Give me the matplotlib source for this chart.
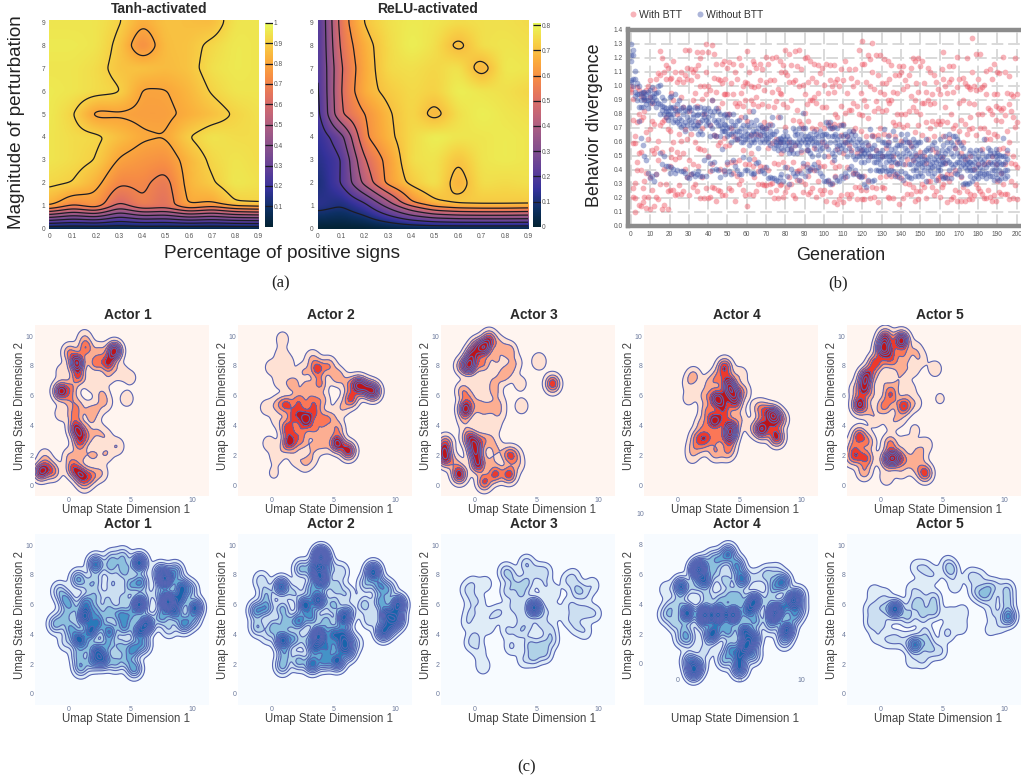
import matplotlib
matplotlib.use('Agg')
import matplotlib.pyplot as plt
from matplotlib.colors import LinearSegmentedColormap, Normalize
from matplotlib.cm import ScalarMappable
from matplotlib.lines import Line2D
import numpy as np

W, H = 1021, 779
plt.rcParams['font.family'] = ['Liberation Sans', 'DejaVu Sans']

# ---- (a) heatmaps, rows are magnitude, columns are percentage
pct = [0, .1, .2, .3, .4, .5, .6, .7, .8, .9]
mag = [0, 1, 1.15, 2, 3, 4, 5, 6, 7, 8, 9]
tanh_z = [
    [.02, .02, .02, .03, .03, .03, .02, .02, .02, .02],
    [.80, .68, .76, .55, .68, .65, .78, .72, .80, .82],
    [.84, .74, .77, .60, .70, .63, .82, .80, .90, .91],
    [.92, .90, .83, .71, .72, .66, .84, .89, .96, .94],
    [.95, .93, .90, .79, .76, .74, .84, .92, .95, .93],
    [.95, .93, .92, .86, .81, .80, .90, .95, .93, .93],
    [.96, .91, .775, .79, .78, .78, .82, .86, .91, .94],
    [.96, .95, .93, .91, .79, .795, .84, .91, .95, .95],
    [.95, .95, .93, .87, .87, .85, .87, .94, .96, .95],
    [.96, .96, .95, .88, .72, .86, .87, .92, .96, .95],
    [.95, .95, .95, .91, .81, .87, .86, .85, .95, .95],
]
relu_z = [
    [.00, .00, .00, .01, .02, .02, .02, .02, .02, .02],
    [.13, .10, .17, .33, .50, .62, .66, .67, .67, .66],
    [.13, .11, .20, .38, .60, .69, .72, .72, .72, .72],
    [.095, .20, .43, .63, .72, .77, .66, .76, .75, .76],
    [.12, .19, .50, .63, .76, .77, .70, .77, .78, .77],
    [.14, .26, .59, .68, .75, .79, .77, .77, .78, .77],
    [.16, .50, .60, .69, .75, .67, .76, .79, .77, .76],
    [.17, .51, .67, .72, .75, .73, .79, .77, .76, .74],
    [.18, .50, .66, .75, .76, .74, .77, .66, .78, .77],
    [.18, .53, .67, .75, .79, .76, .675, .76, .77, .76],
    [.18, .55, .71, .76, .78, .77, .75, .76, .76, .75],
]

# ---- (b) behavior divergence per generation, hundredths
with_btt = [
    [100, 98, 96], [91, 76, 59, 27, 21], [10, 64, 59, 31, 20], [99, 46, 40, 74], [97, 80, 52, 15],
    [93, 53, 40, 14, 76], [27, 78, 17, 95], [82, 32, 21, 91], [67, 38, 13, 97], [100, 62, 21],
    [104, 69, 35, 12, 92], [88, 54, 26, 75], [98, 73, 14, 52], [105, 56, 37, 21], [109, 61, 19, 47],
    [125, 72, 30, 108], [120, 74, 12, 53], [110, 76, 41, 15], [115, 78, 30, 105], [113, 69, 12, 25],
    [105, 68, 43, 26], [95, 55, 49, 106], [118, 90, 26, 60], [110, 84, 22, 48], [103, 53, 23, 80],
    [105, 49, 29, 66], [110, 61, 23, 92], [103, 85, 52, 25], [126, 69, 41, 108], [113, 62, 35, 105],
    [126, 82, 47, 22], [112, 66, 37, 104], [110, 90, 44, 28], [112, 95, 30, 60], [124, 86, 25, 107],
    [115, 74, 43, 56], [120, 100, 55, 20], [124, 70, 35, 91], [100, 80, 54, 20], [130, 110, 94, 27],
    [124, 100, 50, 20], [97, 72, 39, 21], [129, 90, 44, 28], [123, 106, 65, 27], [116, 96, 64, 18],
    [105, 84, 58, 26], [104, 60, 41, 25], [116, 102, 88, 22], [118, 94, 63, 39], [105, 94, 57, 22],
    [113, 94, 80, 44], [117, 80, 58, 27], [102, 70, 46, 26], [116, 94, 64, 38], [110, 88, 46, 18],
    [105, 86, 62, 36], [120, 88, 30, 47], [115, 95, 78, 33], [100, 86, 26, 54], [103, 90, 44, 22],
    [125, 102, 75, 14], [110, 82, 44, 23], [100, 90, 65, 52], [118, 87, 43, 22], [116, 99, 48, 35],
    [113, 92, 66, 25], [100, 86, 39, 30], [116, 104, 65, 43], [112, 87, 71, 30], [97, 74, 42, 29],
    [121, 103, 70, 29], [116, 86, 56, 40], [104, 73, 30, 24], [120, 96, 59, 31], [104, 85, 45, 20],
    [121, 89, 62, 26], [98, 78, 44, 20], [118, 95, 60, 29], [110, 94, 52, 30], [115, 87, 46, 21],
    [126, 110, 71, 24], [108, 85, 42, 28], [123, 103, 60, 35], [115, 90, 55, 30], [103, 76, 46, 22],
    [125, 104, 58, 20], [114, 83, 39, 33], [126, 100, 75, 40], [112, 73, 53, 32], [101, 70, 43, 24],
    [120, 94, 81, 30], [121, 87, 54, 44], [103, 75, 36, 23], [118, 90, 41, 24], [106, 90, 70, 27],
    [116, 92, 56, 40], [103, 88, 69, 21], [115, 95, 46, 32], [109, 73, 43, 26], [113, 85, 60, 23],
    [101, 70, 43, 26], [116, 85, 57, 18], [95, 74, 50, 32], [115, 104, 72, 24], [100, 70, 46, 30],
    [115, 96, 73, 17], [103, 80, 42, 36], [105, 78, 55, 16], [72, 100, 43, 19], [112, 86, 65, 22],
    [104, 73, 52, 17], [118, 81, 60, 35], [95, 64, 42, 23], [112, 83, 58, 20], [106, 83, 54, 23],
    [100, 88, 68, 38], [112, 70, 38, 28], [103, 86, 52, 19], [126, 80, 36, 28], [95, 68, 54, 26],
    [132, 116, 79, 19], [116, 90, 36, 19], [103, 86, 64, 26], [122, 77, 58, 32], [119, 100, 50, 20],
    [131, 110, 65, 28], [98, 82, 64, 21], [122, 89, 54, 27], [108, 84, 65, 17], [122, 96, 70, 35],
    [102, 82, 50, 28], [119, 94, 66, 27], [102, 83, 56, 36], [118, 90, 60, 21], [105, 88, 65, 20],
    [115, 90, 43, 36], [96, 74, 50, 20], [108, 72, 64, 37], [95, 80, 45, 36], [114, 108, 73, 16],
    [110, 80, 61, 34], [114, 98, 71, 20], [104, 80, 44, 31], [100, 72, 48, 23], [108, 82, 60, 30],
    [113, 93, 57, 23], [120, 85, 47, 28], [118, 90, 67, 18], [102, 82, 51, 25], [120, 96, 72, 19],
    [114, 80, 53, 25], [118, 88, 65, 30], [102, 88, 50, 28], [96, 74, 45, 20], [113, 90, 62, 32],
    [110, 87, 70, 32], [94, 75, 55, 28], [108, 88, 64, 22], [103, 73, 53, 25], [98, 75, 34, 33],
    [94, 73, 36, 21], [112, 75, 49, 28], [124, 105, 64, 30], [100, 85, 45, 35], [95, 74, 37, 17],
    [114, 103, 63, 32], [105, 80, 37, 19], [114, 96, 70, 21], [72, 56, 40, 26], [121, 99, 60, 18],
    [105, 88, 68, 24], [76, 52, 35, 18], [106, 90, 60, 28], [102, 73, 48, 18], [120, 100, 66, 25],
    [99, 88, 69, 19], [98, 78, 50, 23], [134, 110, 70, 19], [100, 87, 41, 22], [123, 97, 65, 30],
    [105, 80, 44, 27], [123, 98, 70, 25], [99, 80, 55, 23], [70, 101, 44, 20], [111, 94, 62, 20],
    [84, 67, 46, 26], [112, 83, 62, 21], [105, 80, 50, 18], [116, 94, 66, 22], [86, 76, 44, 18],
    [110, 94, 64, 32], [109, 84, 55, 24], [83, 75, 38, 23], [121, 84, 56, 30], [110, 79, 44, 23],
    [95, 68, 52, 23], [107, 87, 60, 19], [94, 82, 45, 32], [93, 78, 50, 20], [120, 71, 44, 29],
    [94, 74, 42, 19],
]
without_btt = [
    [104, 103, 130, 122, 118], [126, 122, 100, 105], [105, 111, 96, 93], [102, 94, 90], [100, 94, 85, 75],
    [95, 90, 85, 63], [96, 92, 85, 58], [92, 96, 90, 50], [94, 90, 87, 47], [96, 90, 84, 38],
    [97, 92, 88, 34], [99, 93, 89, 36], [92, 88, 95, 32], [95, 90, 85, 37], [100, 96, 88],
    [101, 87, 80, 52], [92, 86, 83, 44], [90, 85, 80, 50], [84, 82, 78, 43], [82, 76, 80, 43],
    [92, 85, 80, 38], [93, 84, 78, 42], [80, 85, 74, 41], [94, 83, 76, 38], [82, 74, 87, 40],
    [90, 83, 77, 73], [84, 76, 71, 39], [80, 85, 72, 39], [83, 74, 68, 38], [82, 72, 78, 35],
    [84, 76, 85, 34], [83, 74, 70, 37], [80, 72, 78, 38], [75, 70, 85, 36], [84, 79, 72, 37],
    [66, 72, 80, 39], [85, 74, 68, 36], [80, 76, 66, 36], [82, 78, 84, 47], [81, 76, 72, 36],
    [84, 78, 74, 49], [82, 72, 64, 45], [79, 70, 90, 40], [76, 82, 65, 46], [74, 84, 64, 41],
    [72, 82, 76, 40], [80, 72, 64, 35], [70, 76, 68, 55], [79, 73, 68, 40], [72, 80, 68, 37],
    [78, 70, 64, 46], [80, 71, 66, 39], [75, 66, 60, 37], [80, 72, 68, 47], [66, 72, 62, 43],
    [75, 68, 62, 40], [68, 63, 76, 37], [65, 60, 70, 37], [72, 64, 60, 49], [68, 62, 78, 40],
    [72, 66, 62, 40], [71, 64, 58, 48], [66, 74, 60, 38], [82, 68, 62, 37], [72, 66, 60, 38],
    [68, 62, 76, 45], [70, 64, 56, 46], [72, 66, 60, 39], [71, 68, 62, 40], [69, 65, 60, 38],
    [70, 66, 62, 42], [72, 63, 60, 34], [68, 64, 58, 35], [78, 72, 66, 34], [66, 61, 56, 34],
    [68, 60, 58, 33], [62, 58, 54, 32], [78, 63, 60, 35], [62, 60, 56, 37], [64, 60, 54, 32],
    [68, 62, 58, 42], [64, 60, 55, 36], [62, 58, 52, 30], [60, 56, 54, 41], [70, 60, 52, 38],
    [68, 65, 58, 36], [66, 60, 52, 38], [70, 62, 58, 33], [66, 60, 54, 38], [81, 70, 62, 45],
    [70, 64, 60, 36], [62, 58, 54, 42], [64, 60, 54, 39], [66, 62, 52, 40], [63, 60, 50, 42],
    [68, 63, 58, 44], [66, 60, 55, 40], [64, 60, 51, 42], [68, 58, 54, 38], [62, 65, 56, 36],
    [66, 60, 50, 32], [74, 66, 58, 32], [72, 64, 55, 33], [74, 70, 60, 30], [70, 64, 52, 31],
    [71, 64, 50, 47], [66, 60, 54, 35], [62, 70, 57, 33], [64, 58, 53, 32], [72, 60, 56, 36],
    [72, 64, 58, 34], [66, 60, 54, 38], [64, 60, 50, 36], [68, 62, 56, 41], [66, 60, 53, 43],
    [68, 62, 50, 37], [65, 58, 48, 40], [60, 55, 50, 37], [62, 56, 50, 36], [60, 52, 46, 35],
    [58, 54, 50, 36], [55, 52, 46, 30], [60, 54, 50, 28], [58, 52, 47, 33], [69, 55, 50, 40],
    [64, 56, 50, 32], [58, 50, 46, 33], [54, 50, 46, 40], [62, 52, 48, 40], [52, 48, 44, 39],
    [60, 54, 50, 40], [69, 60, 50, 42], [58, 50, 46, 39], [64, 58, 52, 40], [60, 50, 47, 37],
    [55, 50, 46, 40], [68, 52, 48, 39], [62, 56, 46, 36], [58, 52, 44, 38], [58, 50, 45, 35],
    [66, 58, 48, 39], [60, 52, 44, 33], [62, 56, 50, 38], [66, 60, 54, 36], [60, 52, 44, 35],
    [58, 50, 44, 34], [62, 56, 48, 40], [60, 52, 46, 36], [58, 50, 42, 40], [60, 48, 44, 36],
    [60, 50, 45, 38], [50, 46, 42, 36], [53, 48, 44, 40], [62, 54, 47, 32], [56, 48, 42, 38],
    [54, 50, 44, 40], [58, 46, 42, 36], [60, 48, 43, 38], [56, 50, 46, 33], [52, 47, 42, 40],
    [62, 50, 44, 40], [54, 48, 44, 36], [58, 50, 46, 34], [64, 52, 45, 35], [60, 54, 47, 34],
    [66, 56, 46, 40], [60, 52, 44, 34], [64, 58, 50, 42], [64, 56, 44, 38], [62, 52, 46, 37],
    [60, 50, 46, 40], [58, 48, 43, 36], [56, 50, 44, 30], [50, 46, 42, 31], [48, 44, 40, 30],
    [52, 46, 42, 31], [54, 46, 40, 36], [50, 44, 40, 32], [52, 46, 40, 34], [54, 48, 42, 36],
    [50, 44, 38, 34], [54, 48, 42, 38], [52, 46, 40, 36], [62, 48, 44, 37], [50, 42, 38, 34],
    [56, 50, 44, 38], [54, 52, 46, 36], [50, 44, 40, 36], [52, 46, 40, 33], [55, 50, 42, 37],
    [52, 48, 44, 34], [51, 46, 40, 33], [50, 44, 38, 34], [63, 50, 44, 38], [50, 46, 40, 34],
    [54, 48, 40, 36],
]

# ---- (c) state density, estimated sample clusters (x, y, weight)
red_1 = [(-2.2, .9, 3.5), (-1.2, .9, 1.6), (-1.7, 1.2, 1.4), (-1.9, 1.9, .8), (.4, 1.1, 2.4), (1, .7, 3), (1.8, .6, 1.8), (1.3, .1, 1.2),
         (2.6, .8, 1), (.1, 1.9, 1), (1, 2, 1), (2, 2, 1.1), (3, 2.1, 1), (3.9, 2.6, 1), (.9, 2.9, 2.2), (1.1, 3.5, 1.8), (.6, 3.8, 3),
         (.5, 4.7, 1.6), (.8, 5.3, 1), (1.7, 3.2, .8), (2.4, 3.6, .8), (1.9, 4.4, .8), (3, 3.2, .8), (-.6, 4.8, .7), (.2, 5.7, 1.2),
         (-.6, 6.3, 4), (.2, 6.5, 1.4), (.8, 7.3, 2.3), (.7, 8.2, 5), (.1, 8.9, 1.7), (1.4, 9.2, 2.2), (1.3, 9.9, .8), (-.5, 7.6, .7),
         (2.2, 8.2, 2), (3.2, 8.2, 3), (3.7, 9, 5), (2.5, 9, 1), (4.2, 7.6, .8), (5, 7.2, .6), (3.2, 7.3, .8), (1.9, 6.8, .8), (2.7, 6.1, 1),
         (1.7, 5, .8), (3, 5.5, .8), (2.3, 5.1, .8), (4.7, 5.8, .8)]
red_2 = [(.9, 9.8, .7), (.8, 8.7, .7), (1.3, 8.2, .7), (0, 7.9, .7), (.7, 7, .8), (1.7, 6.8, 1.5), (2.6, 7.6, 1), (3.7, 7.8, 2.6), (3.3, 8.5, 1),
         (4.6, 8, 1.6), (5.3, 7.3, 1.6), (3.9, 6.8, 1.8), (2.9, 6.5, 1.4), (6.2, 6.8, 1.2), (7, 6.7, 4), (7.6, 6.5, 2.5), (8.2, 6.3, 4), (6.4, 5.8, 2.6),
         (5.7, 5.2, 1), (.5, 5.4, 1), (1.2, 5.4, 2.4), (2.2, 5.7, 1.8), (3.3, 5.6, 1.7), (4.1, 5.7, 1.2), (-.4, 5.2, .7), (2.3, 5, 1.5),
         (1.8, 4.6, 2), (2.8, 4.4, 3.8), (3.5, 4.9, 1.8), (4.2, 4.4, 1.4), (4.8, 4.5, 1), (1.3, 3.8, 2.6), (.5, 4.4, .7), (2.3, 3.6, 1.6), (3.4, 3.7, 1.4),
         (4.2, 3.6, 1), (5.3, 3.8, 1.5), (1.5, 2.9, 3.2), (2.4, 2.9, 1.3), (1, 2.5, .7), (3.4, 2.6, .9), (4.2, 2.7, 1), (5.3, 2.8, 4), (6.2, 2.3, 3.5),
         (-.2, 2.8, .7), (.4, 1.9, .7), (2.7, 1.4, .8), (2, 1.8, .8), (3.2, 1.8, .8), (.2, .8, .5)]
red_3 = [(1.2, 9.8, 2.5), (.8, 9.2, 4), (.2, 9.3, 2), (-.2, 8.7, 3), (-.4, 8, 4.5), (.7, 8.1, 1.6), (-1, 8, 1.4), (2.8, 9, 1.5), (2, 9.4, 1),
         (2.8, 7.7, 1), (3.3, 8.2, .8), (1.8, 8.4, 1), (2.3, 7.3, 1.1), (1.5, 7, .8), (-.9, 6.3, 1.5), (1.6, 6.3, 1.1), (.4, 6.6, .8), (3.7, 6.8, .7),
         (3.8, 5.3, .8), (.4, 5.3, 1.2), (1.2, 5.2, 1), (-.7, 5.1, 4), (2, 5.5, .8), (-.4, 5.8, 1), (.7, 4.3, .8), (1.6, 4, .8), (2, 4.8, .8), (-.8, 4.3, .8),
         (5.2, 8.3, 1), (6.3, 6.8, 3), (-.5, 3.3, 1.2), (-.3, 3.1, 1.4), (-.0, 2.8, 2.4), (.1, 2.2, 3.5), (.3, 1.4, 3.5), (.7, 3, 1.3), (1.4, 3, .8), (1.8, 2.4, .8),
         (-2.3, 2.8, 2), (-2.3, 1.8, 3), (-2.5, 2.3, 2), (-1.2, .7, 3.5), (-1.5, 1.4, .9), (.8, .2, 2.5), (1.6, .7, 1.4), (2.8, .7, 2.8), (2.8, 2, 2.2), (3.3, 2, .9),
         (1.8, .8, 1.3), (3.5, 1.4, .8), (1.4, 1.7, .8)]
red_4 = [(1.3, 7.3, 1.3), (.9, 6.8, .6), (.9, 5.8, .6), (3.8, 7.9, 3), (3.2, 7.2, 1.4), (4.1, 7, 2), (4.2, 6.5, 4), (4.6, 6, 3.5), (3.2, 5.8, 4.5),
         (2.6, 6.8, 1.1), (2.2, 6, 1.2), (2.4, 5, 1.5), (3.7, 5.3, 2.2), (4.7, 5.4, 1.8), (2, 4.1, 1.2), (3, 4.3, 4), (3.8, 4.6, 1.7), (4.3, 3.8, 4),
         (4.2, 3.3, 3.5), (5.1, 7.4, .8), (5.3, 6.3, 1.2), (5, 4.4, 1), (1.6, 3.2, 1.6), (2.3, 3.2, 2.3), (3.2, 3.2, 1.4), (1.3, 2.5, 1), (2, 2.6, 1),
         (3, 2.4, .8), (4.2, 2.5, 1.2), (3.1, 2.1, .9), (1.2, 1.9, .6), (4, 2.1, .9), (7, 5, 1.6), (7.7, 4.7, 4.5), (8.3, 4.4, 1.8), (6.8, 4.2, 1), (6.8, 3.7, 3.8),
         (7.7, 3.9, 1.4), (8, 3.2, 3.2), (6.1, 3.8, .8), (6.5, 5.2, 1)]
red_5 = [(.4, 9.9, 3), (.2, 9.2, 4.5), (1.7, 9.7, 5), (.8, 9, 1.8), (2.8, 9.1, .8), (3.2, 8.5, .8), (1.9, 8.7, 1.4), (1, 8.3, 1.4), (.4, 8.4, 1),
         (2.6, 7.8, .8), (-.4, 8.2, 2.5), (-.8, 7.6, 1.3), (4.4, 7.8, .8), (1.7, 7.7, 1), (-1.2, 7.2, 3.5), (-1.3, 6.5, 3), (-2, 6.4, .7), (-1.6, 5.6, 1.5), (-1.7, 5.3, 2.6),
         (-.7, 6.1, .8), (.8, 6.2, 2), (.2, 7, .8), (1.4, 6.9, .8), (2.3, 6.4, .8), (.3, 5.3, 1.9), (1.9, 5.3, 3), (-.9, 5, .8), (1, 5.7, .8), (2.8, 5.5, .8), (1.5, 4.5, .8),
         (-.4, 4.4, .8), (.9, 4.2, .7), (2.8, 3.7, .5), (-1.7, 3.3, 2.6), (-1, 2.9, 1.5), (-2.2, 2.6, 1.2), (-1.9, 2, 2.2), (-1.1, 1.8, 2.2), (-2.4, 1.8, 1), (-1.3, .9, 1.5),
         (.8, 2.8, 1.8), (1, 1.8, 4.5), (.5, 1.7, 2), (1.6, 1.8, 1.7), (2.3, 1.6, .9), (3, 2.3, .8), (3.7, 2.7, .7), (3.2, 1.8, .8), (3.6, .8, 2.8), (2.9, 1.1, .8),
         (.5, .5, .8), (1.7, .9, .7), (4.8, 5.8, .5), (2, 2.8, .7)]
blue_1 = [(1, 1.8, 2.6), (2, 2.2, 3), (2.8, 2.3, 4.5), (2.3, 2.9, 4.2), (3.8, 2.1, 2.2), (5.3, 1.7, 3.2), (4.7, 2.3, 2), (5.2, 3, 3.6), (.8, 2.6, 2), (1.3, 3.3, 2), (3.2, 3.3, 2.4), (4.2, 3.2, 2.2),
          (6, 3.3, 2.8), (.8, 3.7, 4.5), (-.2, 3.5, 1.2), (1.8, 4.2, 4.5), (2.4, 4.8, 3.5), (3.3, 4.2, 4), (4.5, 4.5, 3.2), (5.7, 4.2, 4.5), (6.3, 4.7, 6), (-1, 4.7, 2.5), (.2, 4.4, 2.7), (-.3, 5.2, 2),
          (1.3, 5.2, 6), (1.4, 6.1, 3.5), (.3, 5.8, 1.8), (-.2, 6.3, 2.8), (-.7, 6.9, 1.8), (2.2, 5.6, 2.2), (3.3, 5.5, 2.4), (4.2, 5.3, 3), (5, 5.3, 2.5), (5.7, 6, 7), (4.4, 6.4, 1.8), (3.2, 6.4, 1.4), (2.2, 6.6, 1.8),
          (.8, 7.7, 3), (1.6, 7.3, 1.4), (2.2, 7.6, 1.6), (2.2, 8.7, 4.5), (3.4, 8.5, 2), (3.6, 7.4, 1.6), (4.5, 8.3, 2.6), (4.4, 9.2, 2), (3.5, 9.1, 1.6), (5.7, 8.8, 6), (5, 7.3, 2.5), (5.8, 7.5, 3.4), (6.2, 6.6, 1),
          (7.8, 7.7, 8), (7.4, 8.2, 3), (8.6, 8.2, 3), (9.1, 7.2, 4), (9.8, 7, 2.2), (8, 6.2, 10), (9, 6.4, 4), (8.6, 5.5, 4), (10.2, 5.8, 5), (7.5, 5.2, 3), (9.3, 4.7, 3.5), (8.1, 4.4, 1.5), (10, 5, 2), (7.3, 6.8, 1.6)]
blue_2 = [(.9, 1.9, 2.5), (1.1, 2.7, 2.2), (2.2, 2.2, 2.5), (3.3, 2, 4.5), (4.3, 2.2, 3.4), (5.3, 2.2, 5), (6.2, 2.8, 3), (3.5, 3.1, 4), (4.5, 3.1, 3.4), (5.6, 3.2, 3.2), (6.1, 3.5, 3.5),
          (.9, 3.6, 5.5), (-.3, 3.9, 1), (1.8, 3.7, 2.6), (2.8, 3.6, 1.5), (3.8, 3.9, 8), (5, 4, 4), (5.8, 4.1, 3.2), (-1.1, 4.5, 2.2), (.2, 4.5, 2.5), (1.2, 4.8, 2.4), (2.2, 4.9, 4), (3.2, 5.2, 3.3), (4.4, 4.9, 2.5), (5.8, 5.1, 5), (-1.2, 5.6, 3.2),
          (-.4, 5.8, 3), (.9, 5.7, 2.4), (2.7, 6, 5), (3.8, 6.3, 6), (5, 6, 2.4), (6.2, 5.5, 2), (-.4, 6.7, 2), (.8, 7.2, 5), (-.8, 7.6, 1.5), (1.8, 6.8, 1.6), (3.2, 7.1, 2.4), (4.1, 7.5, 3.5), (5.2, 7.2, 2), (6, 6.7, 1.5),
          (2.4, 8.4, 2.4), (3.4, 8.4, 3.2), (3.9, 8, 6), (4, 9.2, 10), (4.6, 8.5, 2), (5.6, 8.2, 1.5), (8.2, 8.2, 6), (7.6, 7.4, 2), (8.7, 7.3, 3), (9.4, 7, 2.4), (8.8, 6.2, 3), (7.5, 6, 2), (10.2, 6, 6.5),
          (9.3, 5.3, 5.5), (10.1, 5, 5), (7.9, 5, 1.5), (9, 4.2, 5), (9.6, 4.5, 2.5), (6.8, 3.4, 1)]
blue_3 = [(-.6, 7, .8), (-.2, 6.4, .7), (-.3, 5.5, .8), (-.5, 4.8, .8), (.6, 5.2, .7), (.4, 6.2, .6), (.9, 7.4, .7), (-.1, 7.4, .7), (.1, 3.8, 1), (-.3, 3.4, .7), (.4, 2.9, .7), (.7, 1.9, .9), (1.1, 4.5, .7), (2.1, 5.5, .8), (1.5, 5.3, .7),
          (2.5, 8.2, 1.2), (2.7, 6.9, 1.2), (2.9, 8, .9), (3.3, 7.4, 1), (3.8, 6.7, 1.4), (4.2, 7.5, 1.6), (4.2, 8.7, 1.5), (5, 8.2, 1), (5.7, 8.2, 1), (5.7, 7.3, .8), (4.8, 5.8, 6), (3.2, 5.9, 1.1), (3.7, 5.2, .9), (2.7, 4.3, 1),
          (3.7, 4.2, 1.2), (4.3, 4.6, 1), (5.4, 4.7, .9), (6.1, 4.3, 1), (6.2, 3.6, 1.2), (3, 3.2, 1), (4.5, 3.3, 1.5), (5.4, 3.3, 1.3), (4.8, 2.5, 1.6), (4, 2.3, .8), (5.7, 2.7, 1.3), (5.6, 5.5, .8), (6.5, 5.5, .7), (6.4, 6.8, .7),
          (7.5, 7.6, .8), (8, 7.9, .7), (8.3, 7, 1.5), (9.5, 7.3, .8), (8.9, 6.7, .8), (7.7, 6, .8), (8.3, 5.5, 1), (9, 5.5, 1), (9.7, 5.4, .8), (8.9, 4.2, .8), (8.2, 4.5, .8), (7.6, 5, .7)]
blue_4 = [(-.9, 5, .8), (-.5, 3.8, 1.5), (-.9, 3.3, 1.6), (.3, 5.2, 5), (.2, 4.2, 1.5), (-.2, 2.8, 1.8), (.8, 3.4, 6), (.6, 2.3, 1.7), (.9, 1.7, 2), (.3, 1.7, 1.2), (1.6, 6.3, 7), (2.2, 5.6, 4.5), (2, 6.6, 3), (1.4, 5.2, 1.5), (3, 6.2, 1.8), (2.4, 4.5, 1.8),
          (2.2, 3.3, 9), (3.3, 3.3, 9), (2.7, 1.9, 4), (2, 2.6, 1.2), (3.1, 2.3, 2.7), (4.5, 3.3, 8), (5.7, 3.6, 4), (6.2, 4.2, 6), (6.3, 2.9, 2.6), (4.1, 2.2, 3), (5.4, 2.2, 5), (4.3, 1, 3), (5.5, 1.2, 6.5), (6.1, 1.7, 4.5), (5, .5, 4), (6.1, .6, 2.4),
          (3.8, .3, 2.4), (5, -.3, 4.5), (1, .2, 3), (1.3, -.5, 5), (1.7, -.1, 2.4), (2.2, .9, 1.2), (4.1, 7.4, 4), (3.4, 7, 2), (4.8, 6.6, 3.5), (5.2, 5.7, 4.5), (3.9, 5.6, 1.9), (4.3, 4.6, 2), (5, 4.5, 2), (3.5, 4.3, 2), (2.8, 7.1, 1.6), (6.3, 5.8, 1),
          (7.2, 6, 1.8), (7.8, 5.2, 2.5), (7.8, 3.4, 9), (8.5, 5.5, 4), (9.3, 4.3, 6.5), (9.4, 3.2, 2.6), (8.5, 3.8, 3), (8.8, 2.3, 6), (9.8, 3.7, 2), (7.5, 2.6, 2), (8.6, 1.6, 2), (7.4, 4.4, 1.5), (9.8, 4.6, 1.8), (8, 6.2, 1)]
blue_5 = [(-.5, 6.8, .8), (-.8, 5.7, .9), (-.7, 4.8, 1.2), (.2, 4.7, .9), (-.1, 5.8, .8), (.4, 6.6, .7), (1.2, 5.7, 5), (.4, 5.7, .9), (2.2, 5.2, 1.6), (-.3, 3.9, .7), (.5, 3.6, .7), (1.2, 3.7, 1), (2, 3.5, .8), (2.8, 3.3, 4), (3.6, 4.1, 1.1),
          (3.8, 3.4, 1.3), (4.8, 2.9, 1), (4.1, 2.9, .9), (3.4, 2.3, 1), (2.5, 2.2, .6), (3.4, 5.3, 1.5), (4.3, 5.6, 1.7), (3.2, 6.2, 1.4), (4.3, 6.4, 1.4), (2.6, 6, 1), (2.6, 7, .8), (3.5, 7.3, .8), (3.6, 8.4, .9), (2.9, 8.5, .7),
          (4.3, 8, .8), (5.7, 8.3, 1.6), (5.4, 8.7, .9), (6, 7.3, .8), (5.4, 4.1, 1.1), (6.5, 4.5, .7), (5.6, 5.3, .8), (6.6, 5.5, .7), (7.3, 7.9, 1), (8, 7.8, .8), (7.7, 6.9, 1.2), (8.3, 6.6, 1.6), (8.7, 7.1, 1.5), (9, 6.2, .8),
          (10.2, 7, 1.5), (10.2, 6.2, 1.6), (10.3, 5.2, 3.5), (9.3, 7.2, .8), (9.1, 5.4, .8), (9.6, 4.6, .7), (8.8, 4.3, .5)]

actor_names = ['Actor 1', 'Actor 2', 'Actor 3', 'Actor 4', 'Actor 5']
red_panels = [red_1, red_2, red_3, red_4, red_5]
blue_panels = [blue_1, blue_2, blue_3, blue_4, blue_5]
blue_steps = [.65, .65, .6, .65, .6]

thermal = LinearSegmentedColormap.from_list('thermal', [
    (3/255, 35/255, 51/255), (13/255, 48/255, 100/255), (53/255, 50/255, 155/255), (93/255, 62/255, 153/255),
    (126/255, 77/255, 143/255), (158/255, 89/255, 135/255), (193/255, 100/255, 121/255), (225/255, 113/255, 97/255),
    (246/255, 139/255, 69/255), (251/255, 173/255, 60/255), (246/255, 211/255, 70/255), (231/255, 250/255, 90/255)])


def axes_px(l, t, r, b):
    return fig.add_axes([l / W, 1 - b / H, (r - l) / W, (b - t) / H])


def text_px(x, y, s, **kw):
    kw.setdefault('ha', 'center')
    kw.setdefault('va', 'center')
    fig.text(x / W, 1 - y / H, s, **kw)


def blur(a, sigma, axis):
    # small gaussian along one axis, edges held
    n = int(3 * sigma) + 1
    k = np.exp(-np.arange(-n, n + 1) ** 2 / (2 * sigma ** 2))
    k = k / k.sum()
    pad = [(0, 0), (0, 0)]
    pad[axis] = (n, n)
    a = np.pad(a, pad, mode='edge')
    return np.apply_along_axis(lambda v: np.convolve(v, k, mode='valid'), axis, a)


def heat(l, r, cl, z, levels, vmin, vmax, title, ticks, ticklabels, title_dx):
    ax = axes_px(l, 20, r, 228.7)
    fx = np.linspace(0, .9, 181)
    fy = np.linspace(0, 9.1, 365)
    arr = np.array(z)
    by_y = np.array([np.interp(fy, mag, arr[:, j]) for j in range(arr.shape[1])]).T
    field = np.array([np.interp(fx, pct, row) for row in by_y])
    field = blur(blur(field, 4, 1), 3.5, 0)
    ax.imshow(field, origin='lower', extent=[0, .9, 0, 9.1], aspect='auto', cmap=thermal, vmin=vmin, vmax=vmax,
              interpolation='bilinear')
    cs = ax.contour(fx, fy, field, levels=levels, colors='#1c1c24', linewidths=0.9)
    ax.set_xlim(0, .9)
    ax.set_ylim(0, 9.1)
    ax.set_xticks(pct)
    ax.set_xticklabels(['0' if p == 0 else str(p) for p in pct])
    ax.set_yticks(range(10))
    ax.tick_params(length=0, labelsize=4.8, labelcolor='#555555', pad=3)
    for s in ax.spines.values():
        s.set_visible(False)
    text_px((l + r) / 2 + title_dx, 9, title, fontsize=10, fontweight='bold', color='#2a2a2a')
    cax = axes_px(cl, 22.7, cl + 7.7, 226.7)
    cb = fig.colorbar(ScalarMappable(Normalize(vmin, vmax), thermal), cax=cax)
    cb.add_lines(cs)
    cb.set_ticks(ticks)
    cb.set_ticklabels(ticklabels)
    cb.ax.tick_params(length=0, labelsize=4.8, labelcolor='#555555', pad=0.5)
    cb.outline.set_visible(False)


def kde_panel(l, t, pts, bg, cmap, step, cstep, offset, y0_px, title, title_y, label_y, ylab_y):
    r, b = l + 174, t + 171
    ax = axes_px(l, t, r, b)
    ax.set_facecolor(bg)
    xs = np.linspace(-2.7, 11.4, 300)
    ylo, yhi = (y0_px - b) / 14.9, (y0_px - t) / 14.9
    ys = np.linspace(ylo, yhi, 300)
    X, Y = np.meshgrid(xs, ys)
    Z = np.zeros_like(X)
    for px, py, w in pts:
        Z += w * np.exp(-((X - px) ** 2 + (Y - py) ** 2) / (2 * 0.40 ** 2))
    levels = np.arange(.35, Z.max() + step, step)
    cols = [plt.get_cmap(cmap)(min(offset + cstep * i, .8)) for i in range(len(levels))]
    fills = list(levels) + [levels[-1] + step]
    ax.contourf(X, Y, Z, levels=fills, colors=cols)
    ax.contour(X, Y, Z, levels=levels, colors='#5865b4', linewidths=0.8)
    ax.set_xlim(-2.68, 11.32)
    ax.set_ylim(ylo, yhi)
    ax.set_xticks([0, 5, 10])
    yticks = [t_ for t_ in [0, 2, 4, 6, 8, 10] if ylo < t_ < yhi]
    ax.set_yticks(yticks)
    ax.tick_params(length=0, labelsize=5, labelcolor='#6c7a9c', pad=1)
    for s in ax.spines.values():
        s.set_visible(False)
    text_px(l + 93, title_y, title, fontsize=10, fontweight='bold', color='#2a2a2a')
    text_px(l + 91, label_y, 'Umap State Dimension 1', fontsize=8.3, color='#444444')
    text_px(l - 15, ylab_y, 'Umap State Dimension 2', fontsize=8.3, color='#444444', rotation=90)
    return ax


fig = plt.figure(figsize=(W / 100, H / 100), dpi=100)

heat(49.3, 258.7, 265, tanh_z, [.1, .2, .3, .4, .5, .6, .7, .8, .9, 1], 0, 1.0, 'Tanh-activated',
     [.1, .2, .3, .4, .5, .6, .7, .8, .9, 1], ['0.1', '0.2', '0.3', '0.4', '0.5', '0.6', '0.7', '0.8', '0.9', '1'], 5)
heat(318, 528.3, 533.3, relu_z, [.1, .2, .3, .4, .5, .6, .7, .8], 0, .81, 'ReLU-activated',
     [0, .1, .2, .3, .4, .5, .6, .7, .8], ['0', '0.1', '0.2', '0.3', '0.4', '0.5', '0.6', '0.7', '0.8'], 4)
text_px(17, 122, 'Magnitude of perturbation', fontsize=13.6, rotation=90, color='#222222')
text_px(282, 254, 'Percentage of positive signs', fontsize=13.7, color='#222222')
text_px(281, 283, '(a)', fontsize=12, family='Liberation Serif', color='#222222')

ax = axes_px(628, 29.5, 1026, 226)
red_x = [g for g, vals in enumerate(with_btt) for v in vals]
red_y = [v / 100 for vals in with_btt for v in vals]
blue_x = [g for g, vals in enumerate(without_btt) for v in vals]
blue_y = [v / 100 for vals in without_btt for v in vals]
ax.scatter(red_x, red_y, s=17, color='#ee4a5a', alpha=.42, linewidths=0, clip_on=True)
ax.scatter(blue_x, blue_y, s=17, color='#3a50a6', alpha=.42, linewidths=0, clip_on=True)
ax.set_xlim(-1.55, 204.8)
ax.set_ylim(.005, 1.403)
ax.set_xticks(range(0, 201, 10))
ax.set_yticks([i / 10 for i in range(15)])
ax.set_yticklabels(['%.1f' % (i / 10) for i in range(15)])
ax.grid(True, color='#d9d9d9', linewidth=1.4, linestyle=(0, (6, 2.5)))
ax.set_axisbelow(True)
ax.tick_params(length=0, labelsize=4.8, labelcolor='#555555', pad=3.5)
for s in ax.spines.values():
    s.set_color('#8c8c8c')
    s.set_linewidth(3.2)
handles = [Line2D([], [], marker='o', linestyle='', markersize=4.3, color='#ee4a5a', alpha=.42, markeredgewidth=0),
           Line2D([], [], marker='o', linestyle='', markersize=4.3, color='#3a50a6', alpha=.42, markeredgewidth=0)]
fig.legend(handles, ['With BTT', 'Without BTT'], loc='center left', bbox_to_anchor=(629 / W, 1 - 15 / H), ncol=2,
           frameon=False, fontsize=7.5, handlelength=.8, handletextpad=.2, columnspacing=1.25, borderpad=0,
           borderaxespad=0, labelcolor='#333333')
text_px(594, 125, 'Behavior divergence', fontsize=12.9, rotation=90, color='#222222')
text_px(841, 256, 'Generation', fontsize=13, color='#222222')
text_px(838, 283, '(b)', fontsize=12, family='Liberation Serif', color='#222222')

lefts = [35, 238, 441, 644, 847]
for l, pts, name in zip(lefts, red_panels, actor_names):
    kde_panel(l, 325, pts, '#fff5f0', 'Reds', .7, .17, .12, 485, name, 315, 510, 406)
for l, pts, name, step in zip(lefts, blue_panels, actor_names, blue_steps):
    ax = kde_panel(l, 534, pts, '#f7fbff', 'Blues', step, .1, .12, 664 if name == 'Actor 4' else 694, name, 524, 719, 615)
    if name == 'Actor 4':
        ax.tick_params(axis='x', pad=-20)
        ax.text(-3, 10, '10', fontsize=5, color='#6c7a9c', ha='center', va='center', clip_on=False)
text_px(527, 767, '(c)', fontsize=12, family='Liberation Serif', color='#222222')

fig.savefig('out.png', dpi=100)
